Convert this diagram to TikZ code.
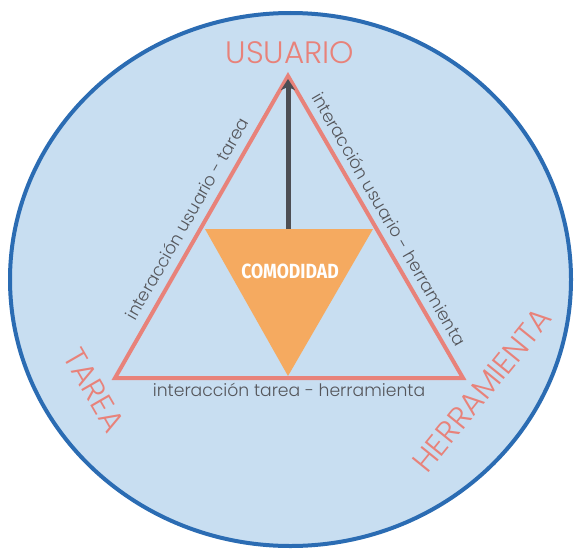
\documentclass[tikz,border=0pt]{standalone}
\usepackage{fontspec}
\usepackage{tikz}
\usetikzlibrary{arrows.meta, positioning, calc}

\setmainfont{Poppins}[UprightFont=* Light]
\newfontfamily\comfont{Fira Sans}

\definecolor{bgblue}{HTML}{C8DEF1}
\definecolor{ringblue}{HTML}{2B6CB3}
\definecolor{salmon}{HTML}{E8827A}
\definecolor{comorange}{HTML}{F5AA60}
\definecolor{arrowgray}{HTML}{4D4E54}
\definecolor{txtgray}{HTML}{55565B}

\begin{document}
\begin{tikzpicture}[x=1pt, y=-1pt,
    vertexlbl/.style={font=\fontsize{31}{31}\selectfont, text=salmon, inner sep=0pt},
    sidelbl/.style={font=\fontsize{17.2}{17.2}\selectfont, text=txtgray, inner sep=0pt},
    side/.style={draw=salmon, line width=4pt, line join=miter}]
  \useasboundingbox (0,0) rectangle (575,551);

  % Background
  \draw[ringblue, fill=bgblue, line width=4pt] (290.5,279.5) ellipse [x radius=280.5, y radius=266.5];

  % Corners
  \coordinate (u) at (288,76);
  \coordinate (t) at (115,378);
  \coordinate (h) at (463,378);

  % Comfort triangle
  \coordinate (cl) at (205,229);
  \coordinate (cr) at (373,229);
  \coordinate (cb) at (288,376);
  \fill[comorange] (cl) -- (cr) -- (cb) -- cycle;
  \node[font=\comfont\bfseries\fontsize{20.5}{20.5}\selectfont, text=white, inner sep=0pt, xscale=0.86] (comodidad) at (290,271.5) {COMODIDAD};

  % Sides
  \draw[side] (t) -- (u) -- (h) -- cycle;
  \path (t) -- node[sidelbl, sloped, above=10pt] (lblut) {interacción usuario - tarea} (u);
  \path (u) -- node[sidelbl, sloped, above=9pt] (lbluh) {interacción usuario - herramienta} (h);
  \path (t) -- node[sidelbl, below=5pt] (lblth) {interacción tarea - herramienta} (h);

  % Arrow
  \coordinate (ctop) at (288,229);
  \draw[arrowgray, line width=5pt, -{Stealth[length=11pt, width=14pt, inset=3pt]}, shorten >=3pt] (ctop) -- (u);

  % Vertex labels
  \node[vertexlbl] (usuario) at (290,53) {USUARIO};
  \node[vertexlbl, rotate=-60] (tarea) at (94,390) {TAREA};
  \node[vertexlbl, rotate=51] (herramienta) at (482,390) {HERRAMIENTA};
\end{tikzpicture}
\end{document}
